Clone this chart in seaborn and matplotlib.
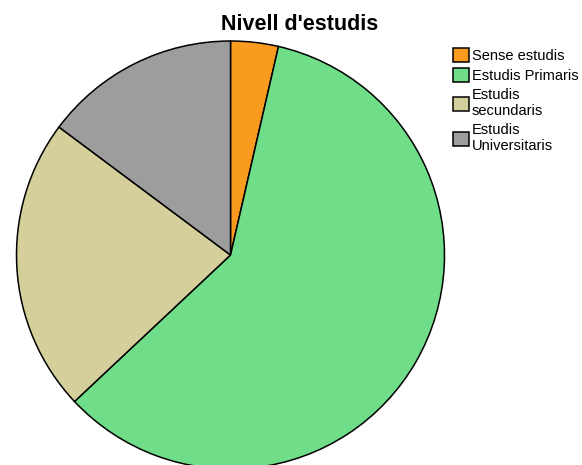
import matplotlib
matplotlib.use("Agg")
import matplotlib.pyplot as plt
import seaborn as sns

# data (percent)
categories = ["Sense estudis", "Estudis Primaris", "Estudis\nsecundaris", "Estudis\nUniversitaris"]
values = [3.6, 59.4, 22.2, 14.8]
colors = ["#F99B1E", "#70DD88", "#D5CF9B", "#9D9D9D"]

sns.set_theme(style="white")
plt.rcParams["font.family"] = ["Liberation Sans", "DejaVu Sans"]
plt.rcParams["text.color"] = "black"

fig = plt.figure(figsize=(5.82, 4.65), dpi=100)
# pie axes: centre ~ (230, 255) px, radius ~214 px
ax = fig.add_axes([16.5 / 582, -4 / 465, 428 / 582, 428 / 465])
wedges, _ = ax.pie(values, colors=colors, startangle=90, counterclock=False,
                   radius=1.0, wedgeprops=dict(edgecolor="black", linewidth=1.1))
ax.set_xlim(-1, 1)
ax.set_ylim(-1, 1)
ax.axis("off")

fig.text(300 / 582, 1 - 24 / 465, "Nivell d'estudis", ha="center", va="center",
         fontsize=15.5, fontweight="bold", color="black")

leg = fig.legend(wedges, categories, loc="upper left",
                 bbox_to_anchor=(447 / 582, 1 - 42 / 465), frameon=False,
                 fontsize=10.5, handlelength=1.1, handleheight=1.1,
                 handletextpad=0.2, labelspacing=0.35, borderaxespad=0)
for t in leg.get_texts():
    t.set_color("black")

fig.savefig("out.png", dpi=100)
